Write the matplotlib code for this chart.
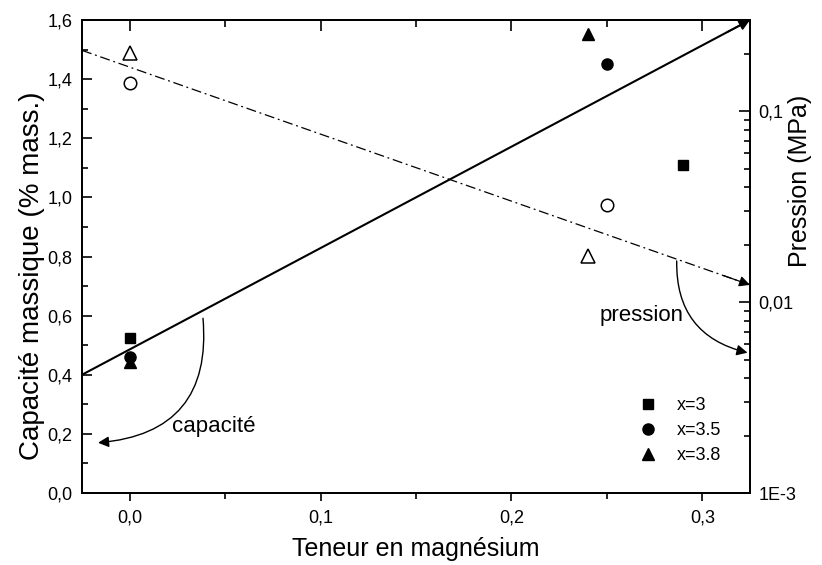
import matplotlib
matplotlib.use("Agg")
import matplotlib.pyplot as plt
import numpy as np
from matplotlib.ticker import MultipleLocator, FuncFormatter, LogLocator, FixedLocator, NullFormatter

plt.rcParams['font.family'] = ['Liberation Sans', 'DejaVu Sans']

# Data
teneur_x3 = [0.0, 0.29]
cap_x3 = [0.523, 1.11]
teneur_x35 = [0.0, 0.25]
cap_x35 = [0.461, 1.451]
teneur_x38 = [0.0, 0.24]
cap_x38 = [0.444, 1.553]

# open symbols: pressure (MPa), right axis
pres_teneur_circ = [0.0, 0.25]
pres_circ = [0.14, 0.0322]
pres_teneur_tri = [0.0, 0.24]
pres_tri = [0.202, 0.0174]

# trend lines
cap_line_x = [-0.025, 0.325]
cap_line_y = [0.40, 1.60]
pres_line_x = [-0.025, 0.325]
pres_line_y = [0.208, 0.0123]

legend_labels = ['x=3', 'x=3.5', 'x=3.8']

W, H = 822, 565
fig = plt.figure(figsize=(W / 100, H / 100), dpi=100)
L, R, T, B = 82, 750, 20, 493
ax = fig.add_axes([L / W, 1 - B / H, (R - L) / W, (B - T) / H])
ax2 = ax.twinx()

lw_spine = 1.3
for a in (ax, ax2):
    for s in a.spines.values():
        s.set_linewidth(lw_spine)

ax.set_xlim(-0.025, 0.325)
ax.set_ylim(0, 1.6)
ax2.set_yscale('log')
ax2.set_ylim(1e-3, 0.3)

comma = lambda fmt: FuncFormatter(lambda v, p: (fmt % v).replace('.', ','))
ax.xaxis.set_major_locator(MultipleLocator(0.1))
ax.xaxis.set_minor_locator(MultipleLocator(0.05))
ax.xaxis.set_major_formatter(comma('%.1f'))
ax.yaxis.set_major_locator(MultipleLocator(0.2))
ax.yaxis.set_minor_locator(MultipleLocator(0.1))
ax.yaxis.set_major_formatter(comma('%.1f'))

ax.tick_params(axis='x', which='both', direction='out', labelsize=13, width=1.2, pad=6)
ax.tick_params(axis='x', which='major', length=6)
ax.tick_params(axis='x', which='minor', length=4)
ax.tick_params(axis='y', which='both', direction='in', labelsize=13, width=1.2, left=True, right=False, pad=7)
ax.tick_params(axis='y', which='major', length=7)
ax.tick_params(axis='y', which='minor', length=4)

# top ticks inward
top = ax.secondary_xaxis('top')
top.xaxis.set_major_locator(MultipleLocator(0.1))
top.xaxis.set_minor_locator(MultipleLocator(0.05))
top.tick_params(axis='x', which='both', direction='in', labeltop=False, width=1.2)
top.tick_params(axis='x', which='major', length=8)
top.tick_params(axis='x', which='minor', length=5)
top.spines['top'].set_linewidth(lw_spine)

ax2.yaxis.set_major_locator(FixedLocator([1e-3, 1e-2, 1e-1]))
ax2.yaxis.set_major_formatter(FuncFormatter(lambda v, p: {1e-3: '1E-3', 1e-2: '0,01', 1e-1: '0,1'}.get(round(v, 6), '')))
ax2.yaxis.set_minor_locator(LogLocator(base=10, subs=[2, 3, 4, 5, 6, 7, 8, 9]))
ax2.yaxis.set_minor_formatter(NullFormatter())
ax2.tick_params(axis='y', which='both', direction='in', labelsize=13, width=1.2, pad=6)
ax2.tick_params(axis='y', which='major', length=8)
ax2.tick_params(axis='y', which='minor', length=4)

# trend lines
ax.plot(cap_line_x, cap_line_y, color='black', lw=1.5, solid_capstyle='butt')
ax.annotate('', xy=(cap_line_x[1], cap_line_y[1]),
            xytext=(cap_line_x[1] - 0.012, cap_line_y[1] - 0.012 * (cap_line_y[1] - cap_line_y[0]) / (cap_line_x[1] - cap_line_x[0])),
            arrowprops=dict(arrowstyle='-|>', color='black', lw=1.2, mutation_scale=16, shrinkA=0, shrinkB=0),
            annotation_clip=False)
ln, = ax2.plot(pres_line_x, pres_line_y, color='black', lw=0.9)
ln.set_dashes([8, 3, 1.5, 3])
fr = 0.04
xs = pres_line_x[1] - fr * (pres_line_x[1] - pres_line_x[0])
ys = 10 ** (np.log10(pres_line_y[1]) - fr * (np.log10(pres_line_y[1]) - np.log10(pres_line_y[0])))
ax2.annotate('', xy=(pres_line_x[1], pres_line_y[1]), xytext=(xs, ys),
             arrowprops=dict(arrowstyle='-|>', color='black', lw=0.9, mutation_scale=16, shrinkA=0, shrinkB=0),
             annotation_clip=False)

# filled symbols
h1, = ax.plot(teneur_x3, cap_x3, 's', color='black', ms=7.5, linestyle='none', label=legend_labels[0])
h2, = ax.plot(teneur_x35, cap_x35, 'o', color='black', ms=8, linestyle='none', label=legend_labels[1])
h3, = ax.plot(teneur_x38, cap_x38, '^', color='black', ms=8.5, linestyle='none', label=legend_labels[2])

# open symbols
ax2.plot(pres_teneur_circ, pres_circ, 'o', mfc='white', mec='black', mew=1.1, ms=9, linestyle='none')
ax2.plot(pres_teneur_tri, pres_tri, '^', mfc='white', mec='black', mew=1.1, ms=10, linestyle='none')

# annotation arrows
ax.annotate('', xy=(-0.0166, 0.170), xytext=(0.0384, 0.591),
            arrowprops=dict(arrowstyle='-|>', color='black', lw=1.0, mutation_scale=16,
                            connectionstyle='arc3,rad=-0.5', shrinkA=0, shrinkB=0))
ax.annotate('', xy=(0.3237, 0.4746), xytext=(0.2866, 0.785),
            arrowprops=dict(arrowstyle='-|>', color='black', lw=1.0, mutation_scale=16,
                            connectionstyle='arc3,rad=0.4', shrinkA=0, shrinkB=0),
            annotation_clip=False)
ax.text(0.044, 0.226, 'capacité', fontsize=16, ha='center', va='center')
ax.text(0.268, 0.600, 'pression', fontsize=16, ha='center', va='center')

ax.legend(handles=[h1, h2, h3], loc='lower right', bbox_to_anchor=(0.968, 0.045), frameon=False,
          fontsize=13, handletextpad=1.0, labelspacing=0.45, borderaxespad=0, handlelength=1.2)

ax.set_xlabel('Teneur en magnésium', fontsize=18)
ax.set_ylabel('Capacité massique (% mass.)', fontsize=20)
ax2.set_ylabel('Pression (MPa)', fontsize=18)
ax.xaxis.set_label_coords(0.5, -0.094)
ax.yaxis.set_label_coords(-0.055, 0.46)
ax2.yaxis.set_label_coords(1.057, 0.66)

fig.savefig('out.png', dpi=100)
